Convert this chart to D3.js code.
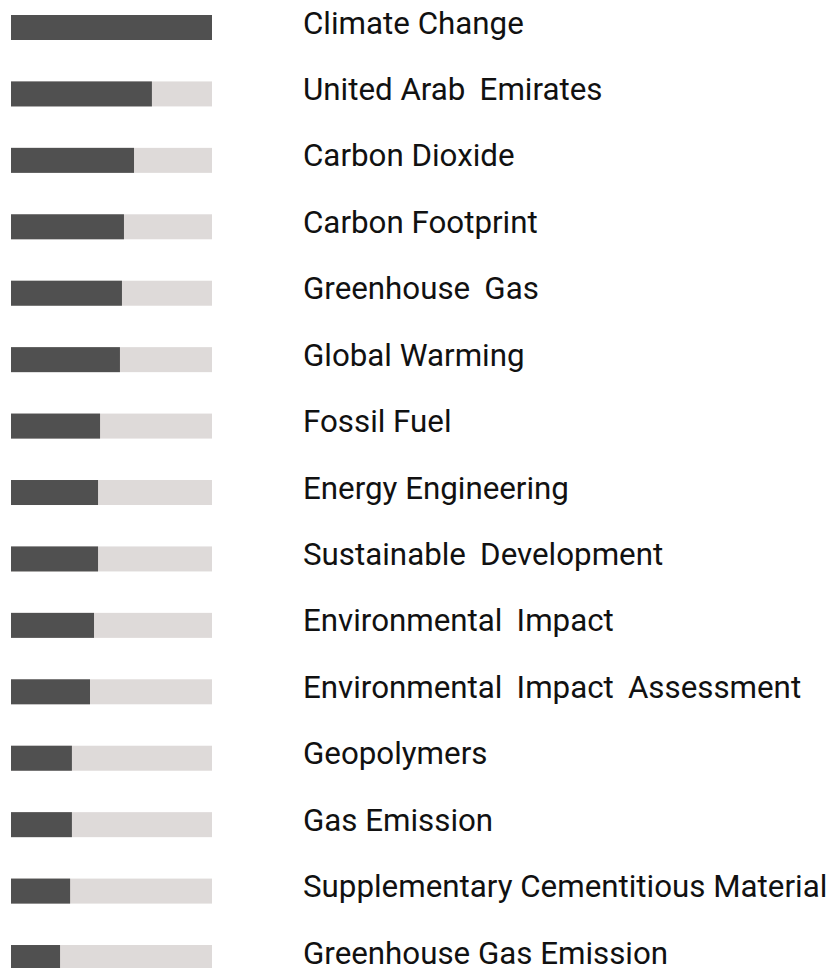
<!DOCTYPE html>
<meta charset='utf-8'>
<style>
	body {
		margin: 0;
		background: #fff;
	}

	text {
		font-family: Roboto, 'Noto Sans', sans-serif;
		font-size: 31.3px;
		fill: #111;
		white-space: pre;
	}
</style>
<body>
<script src='https://cdn.jsdelivr.net/npm/d3@7'></script>

<script type='text/javascript'>
	// keywords, top to bottom (\u2009 = the slightly wider gaps in the source)
	var labels = [
		'Climate Change',
		'United Arab \u2009Emirates',
		'Carbon Dioxide',
		'Carbon Footprint',
		'Greenhouse \u2009Gas',
		'Global Warming',
		'Fossil Fuel',
		'Energy Engineering',
		'Sustainable \u2009Development',
		'Environmental \u2009Impact',
		'Environmental \u2009Impact \u2009Assessment',
		'Geopolymers',
		'Gas Emission',
		'Supplementary Cementitious Material',
		'Greenhouse Gas Emission'
	];
	// share of the top keyword, in percent
	var values = [100, 70.1, 61.2, 56.2, 55.2, 54.2, 44.3, 43.3, 43.3, 41.3, 39.3, 30.3, 30.3, 29.4, 24.4];
	var maxValue = 100;

	var svgW = 835, svgH = 968;
	var rowStep = 66.43, barH = 25;

	var rows = labels.map(function (d, i) { return {label: d, value: values[i]}; });

	var svg = d3.select('body').append('svg')
			.attr('width', svgW).attr('height', svgH);

	var x = d3.scaleLinear().domain([0, maxValue]).range([11, 212]);
	var y = d3.scaleBand().domain(labels)
			.range([0, (labels.length - (1 - barH / rowStep)) * rowStep])
			.paddingInner(1 - barH / rowStep).paddingOuter(0);

	var g = svg.append('g').attr('transform', 'translate(0,15)');

	// grey track
	g.selectAll('rect.track').data(rows).enter().append('rect')
		.attr('class', 'track')
		.attr('x', x(0)).attr('width', x(maxValue) - x(0))
		.attr('y', function (d) { return y(d.label); })
		.attr('height', y.bandwidth())
		.attr('fill', '#dedad9');

	// dark value bar
	g.selectAll('rect.bar').data(rows).enter().append('rect')
		.attr('class', 'bar')
		.attr('x', x(0)).attr('width', function (d) { return x(d.value) - x(0); })
		.attr('y', function (d) { return y(d.label); })
		.attr('height', y.bandwidth())
		.attr('fill', '#505050');

	g.selectAll('text').data(rows).enter().append('text')
		.attr('x', 303)
		.attr('y', function (d) { return y(d.label) + y.bandwidth() / 2 + 6; })
		.text(function (d) { return d.label; });
</script>
